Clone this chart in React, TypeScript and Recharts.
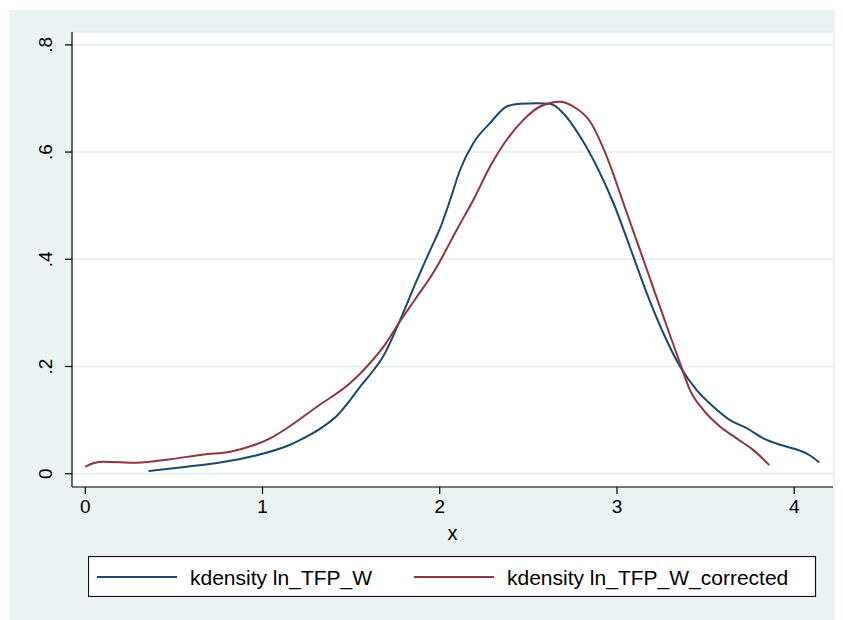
import React from 'react';
import { LineChart, Line, XAxis, YAxis, CartesianGrid } from 'recharts';

const blueX = [0.357, 0.573, 0.761, 0.949, 1.156, 1.213, 1.33, 1.42, 1.495, 1.55, 1.61, 1.683, 1.777, 1.871, 1.946, 2.002, 2.059, 2.115, 2.19, 2.284, 2.378, 2.453, 2.55, 2.623, 2.698, 2.792, 2.886, 2.98, 3.074, 3.168, 3.262, 3.356, 3.45, 3.544, 3.638, 3.732, 3.826, 3.92, 4.033, 4.09, 4.142];
const blueY = [0.005, 0.013, 0.021, 0.033, 0.054, 0.063, 0.085, 0.108, 0.1375, 0.162, 0.186, 0.22, 0.287, 0.361, 0.417, 0.458, 0.511, 0.567, 0.617, 0.654, 0.685, 0.69, 0.691, 0.69, 0.672, 0.629, 0.573, 0.505, 0.422, 0.337, 0.262, 0.2, 0.156, 0.125, 0.1, 0.085, 0.066, 0.054, 0.043, 0.034, 0.021];

const redX = [0.0, 0.05, 0.103, 0.29, 0.48, 0.667, 0.818, 0.949, 1.043, 1.156, 1.307, 1.495, 1.589, 1.683, 1.777, 1.871, 1.965, 2.002, 2.096, 2.19, 2.284, 2.378, 2.472, 2.566, 2.679, 2.754, 2.848, 2.942, 3.036, 3.13, 3.196, 3.262, 3.356, 3.412, 3.487, 3.581, 3.675, 3.77, 3.86];
const redY = [0.013, 0.02, 0.0224, 0.0205, 0.027, 0.036, 0.041, 0.053, 0.066, 0.089, 0.125, 0.169, 0.2, 0.237, 0.285, 0.33, 0.376, 0.397, 0.455, 0.511, 0.573, 0.623, 0.66, 0.685, 0.694, 0.685, 0.657, 0.592, 0.505, 0.417, 0.355, 0.293, 0.206, 0.156, 0.119, 0.088, 0.066, 0.044, 0.016];

const xTicks = [0, 1, 2, 3, 4];
const xTickLabels = ['0', '1', '2', '3', '4'];
const yTicks = [0, 0.2, 0.4, 0.6, 0.8];
const yTickLabels = ['0', '.2', '.4', '.6', '.8'];
const seriesNames = ['kdensity ln_TFP_W', 'kdensity ln_TFP_W_corrected'];
const xTitle = 'x';

const BLUE = '#1a476f';
const RED = '#90353b';
const BG = '#eaf2f3';
const FONT = '"Liberation Sans", Arial, Helvetica, sans-serif';

const blueData = blueX.map((x, i) => ({ x, y: blueY[i] }));
const redData = redX.map((x, i) => ({ x, y: redY[i] }));

const YTick = (props: any) => {
  const { x, y, payload } = props;
  const idx = yTicks.indexOf(payload.value);
  const cx = x - 18;
  return (
    <text
      x={cx}
      y={y}
      dy="0.35em"
      textAnchor="middle"
      transform={`rotate(-90 ${cx} ${y})`}
      fontSize={19}
      fontFamily={FONT}
      fill="#000"
    >
      {idx >= 0 ? yTickLabels[idx] : payload.value}
    </text>
  );
};

const XTick = (props: any) => {
  const { x, y, payload } = props;
  const idx = xTicks.indexOf(payload.value);
  return (
    <text x={x} y={y} dy="0.71em" textAnchor="middle" fontSize={19} fontFamily={FONT} fill="#000">
      {idx >= 0 ? xTickLabels[idx] : payload.value}
    </text>
  );
};

export default function App() {
  return (
    <div style={{ position: 'relative', width: 843, height: 620, marginLeft: -8, marginTop: -8, background: '#fff', overflow: 'hidden' }}>
      <div style={{ position: 'absolute', left: 9, top: 10, width: 834, height: 610, background: BG }} />
      <div style={{ position: 'absolute', left: 0, top: 0 }}>
        <LineChart width={843} height={620} margin={{ top: 32, right: 10, bottom: 93, left: 12 }}>
          <CartesianGrid vertical={false} stroke="#e3ecee" strokeWidth={1.5} fill="#ffffff" />
          <XAxis
            dataKey="x"
            type="number"
            domain={[-0.075, 4.219]}
            ticks={xTicks}
            allowDataOverflow
            height={40}
            tickSize={7}
            tickMargin={6}
            axisLine={{ stroke: '#000', strokeWidth: 1.2 }}
            tickLine={{ stroke: '#000', strokeWidth: 1.2 }}
            tick={<XTick />}
            interval={0}
          />
          <YAxis
            type="number"
            domain={[-0.0248, 0.824]}
            ticks={yTicks}
            allowDataOverflow
            width={60}
            tickSize={7}
            tickMargin={2}
            axisLine={{ stroke: '#000', strokeWidth: 1.2 }}
            tickLine={{ stroke: '#000', strokeWidth: 1.2 }}
            tick={<YTick />}
            interval={0}
          />
          <Line data={blueData} dataKey="y" type="monotone" stroke={BLUE} strokeWidth={2} dot={false} isAnimationActive={false} />
          <Line data={redData} dataKey="y" type="monotone" stroke={RED} strokeWidth={2} dot={false} isAnimationActive={false} />
        </LineChart>
      </div>
      <div
        style={{
          position: 'absolute',
          left: 0,
          width: 905,
          top: 523,
          textAlign: 'center',
          fontFamily: FONT,
          fontSize: 20,
          lineHeight: '20px',
          color: '#000',
        }}
      >
        {xTitle}
      </div>
      <svg style={{ position: 'absolute', left: 88, top: 556 }} width={729} height={41}>
        <rect x={0.5} y={0.5} width={727} height={40} fill="#fff" stroke="#111" strokeWidth={1.2} />
        <line x1={9} x2={89} y1={21} y2={21} stroke={BLUE} strokeWidth={2} />
        <text x={102} y={29} fontSize={21} fontFamily={FONT} fill="#000">{seriesNames[0]}</text>
        <line x1={326} x2={406} y1={21} y2={21} stroke={RED} strokeWidth={2} />
        <text x={419} y={29} fontSize={21} fontFamily={FONT} fill="#000">{seriesNames[1]}</text>
      </svg>
    </div>
  );
}
